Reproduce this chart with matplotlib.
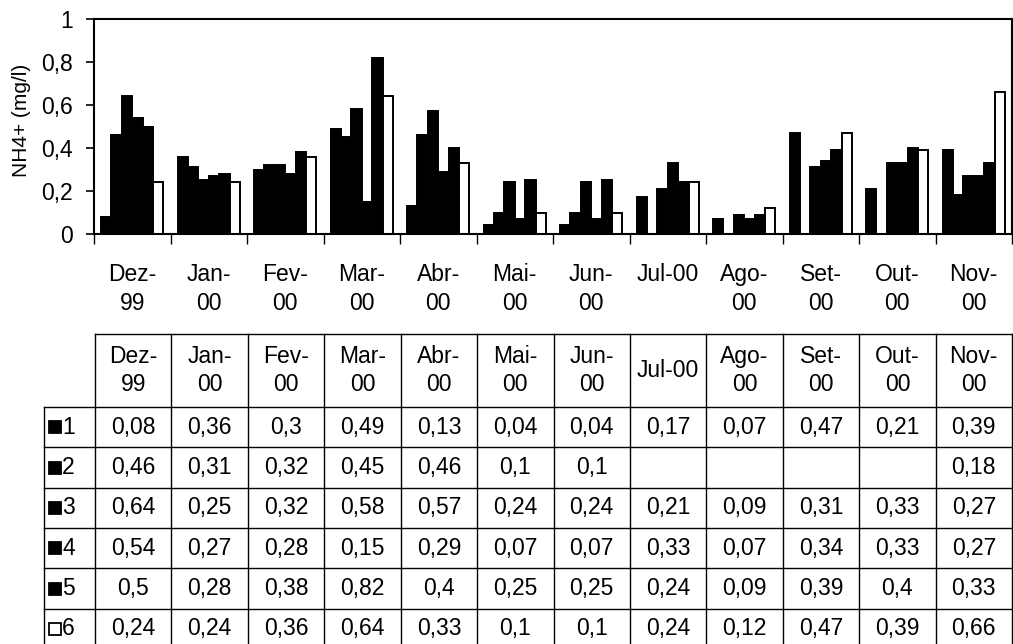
import numpy as np
import matplotlib
matplotlib.use("Agg")
import matplotlib.pyplot as plt

plt.rcParams['font.family'] = ['Liberation Sans', 'DejaVu Sans']

# ---------------- data ----------------
months = ["Dez-\n99", "Jan-\n00", "Fev-\n00", "Mar-\n00", "Abr-\n00", "Mai-\n00",
          "Jun-\n00", "Jul-00", "Ago-\n00", "Set-\n00", "Out-\n00", "Nov-\n00"]
series_names = ["1", "2", "3", "4", "5", "6"]
s1 = [0.08, 0.36, 0.30, 0.49, 0.13, 0.04, 0.04, 0.17, 0.07, 0.47, 0.21, 0.39]
s2 = [0.46, 0.31, 0.32, 0.45, 0.46, 0.10, 0.10, None, None, None, None, 0.18]
s3 = [0.64, 0.25, 0.32, 0.58, 0.57, 0.24, 0.24, 0.21, 0.09, 0.31, 0.33, 0.27]
s4 = [0.54, 0.27, 0.28, 0.15, 0.29, 0.07, 0.07, 0.33, 0.07, 0.34, 0.33, 0.27]
s5 = [0.50, 0.28, 0.38, 0.82, 0.40, 0.25, 0.25, 0.24, 0.09, 0.39, 0.40, 0.33]
s6 = [0.24, 0.24, 0.36, 0.64, 0.33, 0.10, 0.10, 0.24, 0.12, 0.47, 0.39, 0.66]
series = [s1, s2, s3, s4, s5, s6]
face_colors = ["black", "black", "black", "black", "black", "white"]
y_ticks = [0, 0.2, 0.4, 0.6, 0.8, 1.0]
y_tick_labels = ["0", "0,2", "0,4", "0,6", "0,8", "1"]
y_label = "NH4+ (mg/l)"

def fmt(v):
    if v is None:
        return ""
    s = ("%.2f" % v).rstrip("0").rstrip(".")
    return s.replace(".", ",")

FS = 16.5
LS = 1.3

# ---------------- figure ----------------
W, H = 1013, 644
fig = plt.figure(figsize=(W / 100, H / 100), dpi=100)

def px_axes(l, t, r, b):
    return fig.add_axes([l / W, 1 - b / H, (r - l) / W, (b - t) / H])

# main bar axes
ax = px_axes(94, 19, 1012, 234)
n = len(months)
x = np.arange(n)
bw = 0.136
off0 = (1 - 6 * bw) / 2
for j, (vals, fc) in enumerate(zip(series, face_colors)):
    v = np.array([np.nan if a is None else a for a in vals], dtype=float)
    ax.bar(x + off0 + bw * (j + 0.5), v, width=bw, color=fc,
           edgecolor="black", linewidth=1.4, zorder=2)

ax.set_xlim(0, n)
ax.set_ylim(0, 1)
ax.set_yticks(y_ticks)
ax.set_yticklabels(y_tick_labels, fontsize=FS)
ax.tick_params(axis='y', direction='out', length=6, width=1.2, pad=9)
ax.set_xticks(x + 0.5)
ax.set_xticklabels(months, fontsize=FS, linespacing=LS)
ax.tick_params(axis='x', which='major', length=0, pad=21)
ax.set_xticks(np.arange(n + 1), minor=True)
ax.tick_params(axis='x', which='minor', direction='out', length=7, width=1.0)
for sp in ax.spines.values():
    sp.set_linewidth(1.5)
ax.set_ylabel(y_label, fontsize=15)
ax.yaxis.set_label_coords((31 - 94) / 918, 0.53)

# table axes
tax = px_axes(44, 334, 1012, 649)
lab_w = (95 - 44) / 76.4
hdr_h = 73 / 40.3
total_h = hdr_h + 6
tax.set_xlim(-lab_w, n)
tax.set_ylim(total_h, 0)
tax.axis("off")
lw = 1.0
# header top line
tax.plot([0, n], [0, 0], color="black", lw=lw, clip_on=False)
# vertical lines
for i in range(n + 1):
    tax.plot([i, i], [0, total_h], color="black", lw=lw, clip_on=False)
tax.plot([-lab_w, -lab_w], [hdr_h, total_h], color="black", lw=lw, clip_on=False)
# horizontal lines
for k in range(7):
    yy = hdr_h + k
    tax.plot([-lab_w, n], [yy, yy], color="black", lw=lw, clip_on=False)
# header text
for i, m in enumerate(months):
    tax.text(i + 0.5, hdr_h / 2, m, ha="center", va="center", fontsize=FS,
             linespacing=LS)
# rows
for k, (name, vals, fc) in enumerate(zip(series_names, series, face_colors)):
    yc = hdr_h + k + 0.5
    tax.plot([-lab_w + 10.5 / 76.4], [yc], marker="s", markersize=9,
             markerfacecolor=fc, markeredgecolor="black", markeredgewidth=1.3,
             linestyle="none", clip_on=False)
    tax.text(-lab_w + 18 / 76.4, yc, name, ha="left", va="center", fontsize=FS)
    for i, v in enumerate(vals):
        tax.text(i + 0.5, yc, fmt(v), ha="center", va="center", fontsize=FS)

fig.savefig("out.png", dpi=100)
